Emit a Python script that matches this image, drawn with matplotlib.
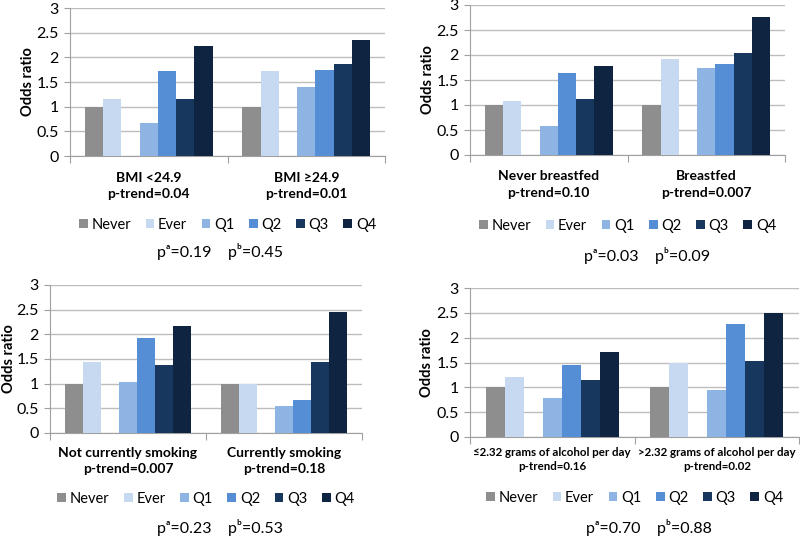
import numpy as np
import matplotlib
matplotlib.use("Agg")
import matplotlib.pyplot as plt
from matplotlib.transforms import blended_transform_factory

plt.rcParams['font.family'] = ['Lato', 'DejaVu Sans']

series = ["Never", "Ever", "Q1", "Q2", "Q3", "Q4"]
colors = ["#8e8e8e", "#c6d9f1", "#8db4e2", "#558ed5", "#17375e", "#0f2440"]

# panel 1: BMI
bmi_groups = [["BMI <24.9", "p-trend=0.04"], ["BMI \u226524.9", "p-trend=0.01"]]
bmi_vals = [[1.00, 1.16, 0.66, 1.72, 1.15, 2.23],
            [1.00, 1.72, 1.39, 1.74, 1.87, 2.35]]
bmi_p = ["0.19", "0.45"]

# panel 2: breastfeeding
bf_groups = [["Never breastfed", "p-trend=0.10"], ["Breastfed", "p-trend=0.007"]]
bf_vals = [[1.00, 1.08, 0.59, 1.64, 1.13, 1.78],
           [1.00, 1.92, 1.75, 1.83, 2.05, 2.77]]
bf_p = ["0.03", "0.09"]

# panel 3: smoking
smk_groups = [["Not currently smoking", "p-trend=0.007"], ["Currently smoking", "p-trend=0.18"]]
smk_vals = [[1.00, 1.44, 1.03, 1.93, 1.37, 2.16],
            [1.00, 1.00, 0.54, 0.66, 1.44, 2.46]]
smk_p = ["0.23", "0.53"]

# panel 4: alcohol
alc_groups = [["\u22642.32 grams of alcohol per day", "p-trend=0.16"],
              [">2.32 grams of alcohol per day", "p-trend=0.02"]]
alc_vals = [[1.00, 1.20, 0.79, 1.45, 1.15, 1.71],
            [1.00, 1.48, 0.95, 2.27, 1.53, 2.49]]
alc_p = ["0.70", "0.88"]

W, H = 800, 536
fig = plt.figure(figsize=(8, 5.36), dpi=100)

# slot index within group (gap after "Ever")
slots = [0, 1, 3, 4, 5, 6]
bw = 0.81 / 7


def panel(box, groups, vals, pvals, ylab_x, lines_y, leg_y, p_xy, cat_size=10):
    left, right, y0, y3 = box
    ax = fig.add_axes([left / W, 1 - y0 / H, (right - left) / W, (y0 - y3) / H])
    for k, name in enumerate(series):
        xs = [g - 3 * bw + slots[k] * bw for g in range(len(groups))]
        hs = [vals[g][k] for g in range(len(groups))]
        ax.bar(xs, hs, width=bw, color=colors[k], label=name, zorder=3)
    ax.set_xlim(-0.5, 1.5)
    ax.set_ylim(0, 3)
    ax.set_yticks(np.arange(0, 3.01, 0.5))
    ax.set_yticklabels(["0", "0.5", "1", "1.5", "2", "2.5", "3"])
    ax.yaxis.grid(True, color="#bdbdbd", linewidth=1, zorder=0)
    ax.set_xticks([-0.5, 0.5, 1.5])
    ax.set_xticklabels([])
    ax.tick_params(axis="x", length=5, color="#a0a0a0")
    ax.tick_params(axis="y", length=4, color="#a0a0a0", labelsize=11.5, pad=4)
    for s in ["top", "right"]:
        ax.spines[s].set_visible(False)
    for s in ["left", "bottom"]:
        ax.spines[s].set_color("#a0a0a0")
    # category labels, two lines each
    tr = blended_transform_factory(ax.transData, fig.transFigure)
    for g, lines in enumerate(groups):
        for line, ly in zip(lines, lines_y):
            ax.text(g, 1 - ly / H, line, transform=tr, ha="center", va="center",
                    fontweight="bold", fontsize=cat_size)
    fig.text(ylab_x / W, 1 - (y0 + y3) / 2 / H, "Odds ratio", rotation=90,
             ha="center", va="center", fontweight="bold", fontsize=10.5)
    fig.legend(handles=ax.containers, labels=series, loc="center",
               bbox_to_anchor=((left + right) / 2 / W, 1 - leg_y / H), ncol=6,
               frameon=False, handlelength=0.6, handleheight=0.6,
               handletextpad=0.25, columnspacing=1.0, fontsize=10.5)
    ptext = "p\u1d43=" + pvals[0] + "    p\u1d47=" + pvals[1]
    fig.text(p_xy[0] / W, 1 - p_xy[1] / H, ptext, ha="center", va="center", fontsize=11.5)


panel((70, 385, 156, 8), bmi_groups, bmi_vals, bmi_p, 28, (178, 194), 225, (220, 252))
panel((470, 785, 155, 5), bf_groups, bf_vals, bf_p, 428, (176, 193), 226, (647, 255))
panel((50, 362, 433, 285), smk_groups, smk_vals, smk_p, 9, (453, 469), 499, (220, 527))
panel((470, 799, 437, 288), alc_groups, alc_vals, alc_p, 427, (453, 467), 498, (649, 527),
      cat_size=8.3)

fig.savefig("out.png", dpi=100)
